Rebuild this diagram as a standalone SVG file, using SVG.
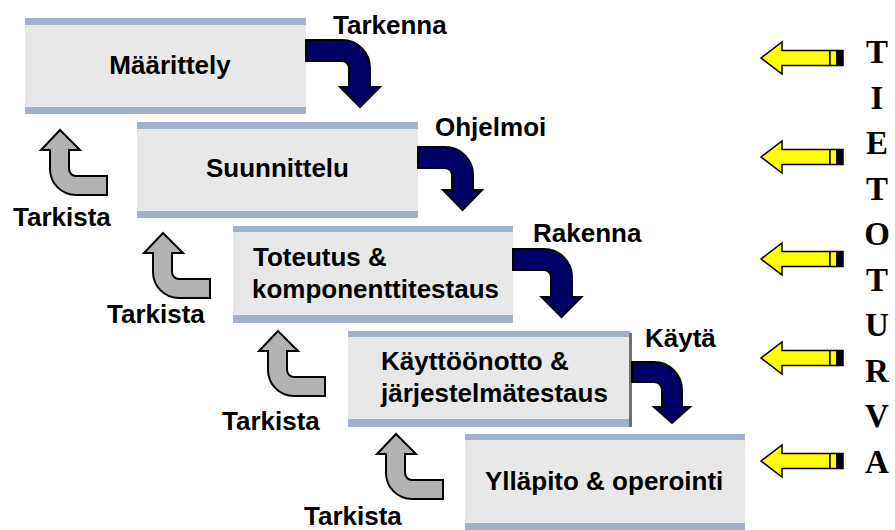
<svg xmlns="http://www.w3.org/2000/svg" width="895" height="530" viewBox="0 0 895 530">
<style>
.body{fill:#e8e8e8}
.bar{fill:#a3b2cc}
.t{font-family:"Liberation Sans",Arial,sans-serif;font-weight:bold;font-size:26px;fill:#000}
.v{font-family:"Liberation Serif","Times New Roman",serif;font-weight:bold;font-size:33px;fill:#000;text-anchor:middle}
.nav{fill:#000066;stroke:#000;stroke-width:2;stroke-linejoin:miter}
.gry{fill:#b2b2b2;stroke:#000;stroke-width:2}
.yel{fill:#ffff00;stroke:#000;stroke-width:1.5}
</style>
<defs>
<path id="garrow" d="M0,0 L20,20 H9 V39 A7,7 0 0 0 16,46 H47 V65 H16 A26,26 0 0 1 -10,39 V20 H-19 Z"/>
<g id="yarrow">
<path class="yel" d="M0,0 L21,-16 V-7.5 H69 V7.5 H21 V16 Z"/>
<rect class="yel" x="69" y="-7.5" width="7" height="15"/>
<rect x="76" y="-7.5" width="6" height="15" fill="#000" stroke="#000" stroke-width="1.5"/>
</g>
</defs>
<rect width="895" height="530" fill="#fff"/>

<g id="b1">
<rect class="body" x="25" y="18" width="281" height="96"/>
<rect class="bar" x="25" y="18" width="281" height="7"/>
<rect class="bar" x="25" y="107" width="281" height="7"/>
<text class="t" x="170" y="74" text-anchor="middle">Määrittely</text>
</g>
<g id="b2">
<rect class="body" x="137" y="122" width="281" height="96"/>
<rect class="bar" x="137" y="122" width="281" height="7"/>
<rect class="bar" x="137" y="211" width="281" height="7"/>
<text class="t" x="277.5" y="177" text-anchor="middle">Suunnittelu</text>
</g>
<g id="b3">
<rect class="body" x="233" y="226" width="280" height="97"/>
<rect class="bar" x="233" y="226" width="280" height="6"/>
<rect class="bar" x="233" y="315" width="280" height="8"/>
<text class="t" x="253" y="266">Toteutus &amp;</text>
<text class="t" x="252" y="298">komponenttitestaus</text>
</g>
<g id="b4">
<rect class="body" x="348" y="331" width="284" height="96"/>
<rect class="bar" x="348" y="331" width="282" height="6"/>
<rect class="bar" x="348" y="419" width="282" height="8"/>
<rect x="629" y="333" width="3" height="94" fill="#707070"/>
<text class="t" x="381" y="370">Käyttöönotto &amp;</text>
<text class="t" x="381" y="402">järjestelmätestaus</text>
</g>
<g id="b5">
<rect class="body" x="465" y="434" width="280" height="96"/>
<rect class="bar" x="465" y="434" width="280" height="6"/>
<rect class="bar" x="465" y="523" width="280" height="7"/>
<text class="t" x="485" y="490">Ylläpito &amp; operointi</text>
</g>

<g id="connectors">
<path class="nav" d="M306,40 H342 A28,28 0 0 1 370,68 V87 H380 L360,107 L340,87 H349 V68 A7,7 0 0 0 342,61 H306 Z"/>
<path class="nav" d="M418,147 H445 A28,28 0 0 1 473,175 V190 H482 L462.5,210 L443,190 H452 V175 A7,7 0 0 0 445,168 H418 Z"/>
<path class="nav" d="M513,249 H544 A28,28 0 0 1 572,277 V297 H581.5 L561.5,317 L541.5,297 H551 V277 A7,7 0 0 0 544,270 H513 Z"/>
<path class="nav" d="M632,362 H654 A28,28 0 0 1 682,390 V407 H690 L672,423 L654,407 H662 V390 A8,8 0 0 0 654,382 H632 Z"/>
<use href="#garrow" class="gry" transform="translate(60,130)"/>
<use href="#garrow" class="gry" transform="translate(163,233)"/>
<use href="#garrow" class="gry" transform="translate(278,331)"/>
<use href="#garrow" class="gry" transform="translate(396,434)"/>
</g>

<g id="labels">
<text class="t" x="333" y="34">Tarkenna</text>
<text class="t" x="435" y="136">Ohjelmoi</text>
<text class="t" x="533" y="242">Rakenna</text>
<text class="t" x="645" y="347">Käytä</text>
<text class="t" x="13" y="226">Tarkista</text>
<text class="t" x="107" y="323">Tarkista</text>
<text class="t" x="222" y="430">Tarkista</text>
<text class="t" x="304" y="525">Tarkista</text>
</g>

<g id="yellow-arrows">
<use href="#yarrow" transform="translate(761,58)"/>
<use href="#yarrow" transform="translate(761,157)"/>
<use href="#yarrow" transform="translate(761,259)"/>
<use href="#yarrow" transform="translate(761,358)"/>
<use href="#yarrow" transform="translate(761,461)"/>
</g>

<g id="tietoturva">
<text class="v" x="877" y="63">T</text>
<text class="v" x="877" y="108.5">I</text>
<text class="v" x="877" y="154">E</text>
<text class="v" x="877" y="199.5">T</text>
<text class="v" x="877" y="245">O</text>
<text class="v" x="877" y="290.5">T</text>
<text class="v" x="877" y="336">U</text>
<text class="v" x="877" y="381.5">R</text>
<text class="v" x="877" y="427">V</text>
<text class="v" x="877" y="472.5">A</text>
</g>
</svg>
